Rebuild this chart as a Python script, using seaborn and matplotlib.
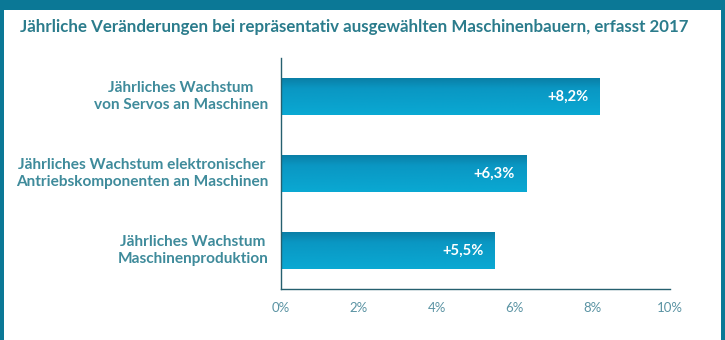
import matplotlib
matplotlib.use("Agg")
import matplotlib.pyplot as plt
import matplotlib.patches as mpatches
import numpy as np
import pandas as pd
import seaborn as sns

categories = [
    "Jährliches Wachstum\nvon Servos an Maschinen",
    "Jährliches Wachstum elektronischer\nAntriebskomponenten an Maschinen",
    "Jährliches Wachstum\nMaschinenproduktion",
]
values = [8.2, 6.3, 5.5]
value_labels = ["+8,2%", "+6,3%", "+5,5%"]
x_ticks = [0, 2, 4, 6, 8, 10]
x_tick_labels = ["0%", "2%", "4%", "6%", "8%", "10%"]
title = "Jährliche Veränderungen bei repräsentativ ausgewählten Maschinenbauern, erfasst 2017"

sns.set_theme(style="white")
FONT = ["Lato", "DejaVu Sans"]
plt.rcParams["font.family"] = FONT

FRAME = "#0b7896"
TITLE_C = "#2b7c8c"
LABEL_C = "#3f8b9b"
TICK_C = "#5a93a3"
AXIS_C = "#25606f"

W, H = 725, 340
fig = plt.figure(figsize=(W / 100, H / 100), dpi=100)
fig.patch.set_facecolor("white")
renderer = fig.canvas.get_renderer()


def fit_size(text, width_px, weight="bold", start=10.0):
    """Font size at which a text spans the given width in pixels."""
    t = fig.text(0, 0, text, fontsize=start, fontweight=weight, family=FONT)
    w = t.get_window_extent(renderer).width
    t.remove()
    return start * width_px / w


# teal frame: top band and thin side edges
for rect in [(0, 1 - 10 / H, 1, 10 / H), (0, 0, 4 / W, 1), (1 - 4 / W, 0, 4 / W, 1)]:
    fig.add_artist(mpatches.Rectangle(rect[:2], rect[2], rect[3], transform=fig.transFigure,
                                      facecolor=FRAME, edgecolor="none", zorder=0))

# plot area in pixels (x: 0%..10%, y: top..axis)
left, right, top, bottom = 281, 670, 58, 289
ax = fig.add_axes([left / W, 1 - bottom / H, (right - left) / W, (bottom - top) / H])
ax.set_facecolor("none")

df = pd.DataFrame({"cat": categories, "val": values})
sns.barplot(data=df, x="val", y="cat", orient="h", color="#0aa3cc", width=0.49,
            ax=ax, saturation=1)

# vertical gradient inside each bar (darker upper edge)
grad = np.linspace(0, 1, 256).reshape(-1, 1)
cmap = matplotlib.colors.LinearSegmentedColormap.from_list(
    "bar", [(0.0, "#0a7ca3"), (0.3, "#0a97c3"), (1.0, "#0aa9d3")])
for patch in list(ax.patches):
    x0, y0 = patch.get_x(), patch.get_y()
    w, h = patch.get_width(), patch.get_height()
    im = ax.imshow(grad, cmap=cmap, aspect="auto", extent=(x0, x0 + w, y0 + h, y0),
                   origin="upper", zorder=2)
    im.set_clip_path(patch)
    patch.set_facecolor("none")
ax.set_xlim(0, 10)
ax.set_ylim(2.5, -0.5)

val_size = fit_size("+8,2%", 41)
for i, (v, lab) in enumerate(zip(values, value_labels)):
    ax.text(v - 0.3, i, lab, ha="right", va="center", color="white",
            fontsize=val_size, fontweight="bold", zorder=3)

for s in ["top", "right"]:
    ax.spines[s].set_visible(False)
for s in ["left", "bottom"]:
    ax.spines[s].set_color(AXIS_C)
    ax.spines[s].set_linewidth(1.0)

tick_size = fit_size("10%", 26, weight="normal")
ax.set_xticks(x_ticks)
ax.set_xticklabels(x_tick_labels, color=TICK_C, fontsize=tick_size)
ax.tick_params(axis="x", direction="out", length=4, width=0.8, color=AXIS_C, pad=5)

# category boundaries as ticks on the y axis, labels centred on bars
ax.set_yticks([0.5, 1.5])
ax.set_yticklabels([])
ax.tick_params(axis="y", direction="out", length=5, width=0.8, color=AXIS_C)
lab_size = fit_size("Jährliches Wachstum elektronischer", 248)
for i, c in enumerate(categories):
    ax.text(-0.33, i, c, ha="right", va="center", multialignment="center",
            color=LABEL_C, fontsize=lab_size, fontweight="bold", linespacing=1.2)
ax.set_xlabel("")
ax.set_ylabel("")

title_size = fit_size(title, 670)
fig.text(20 / W, 1 - 27 / H, title, ha="left", va="center", color=TITLE_C,
         fontsize=title_size, fontweight="bold")

fig.savefig("out.png", dpi=100)
